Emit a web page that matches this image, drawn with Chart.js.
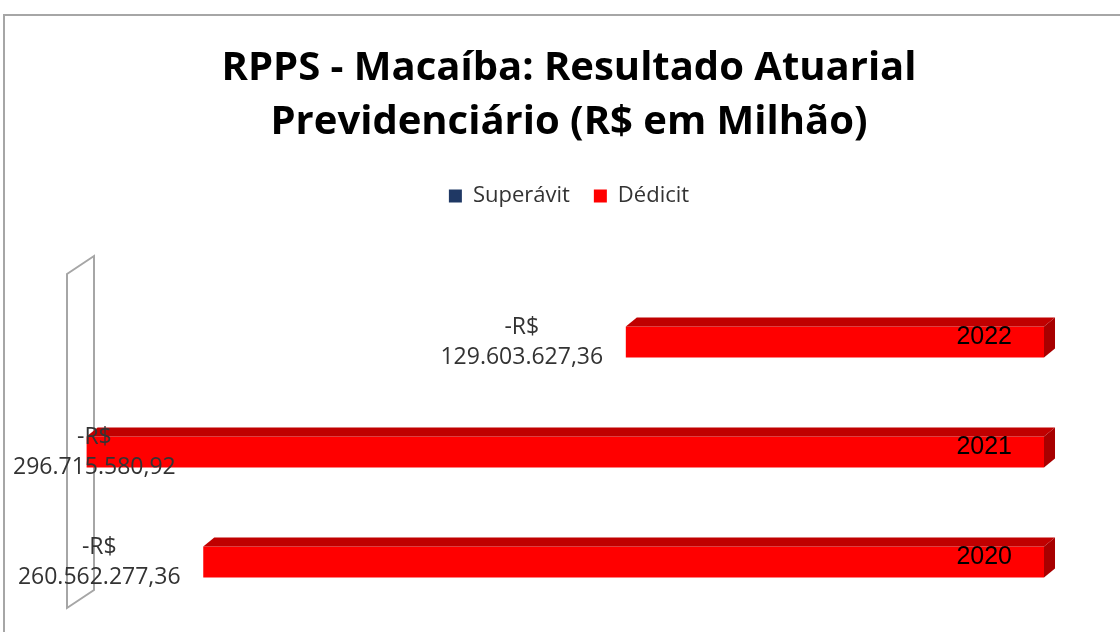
<!DOCTYPE html>
<html><head><meta charset="utf-8">
<script src="https://cdn.jsdelivr.net/npm/chart.js@4.4.0/dist/chart.umd.min.js"></script>
<style>
html,body{margin:0;padding:0;background:#fff;overflow:hidden;width:1120px;height:632px}
#frame{position:absolute;left:3px;top:14px;width:1400px;height:900px;border:2px solid #a6a6a6;box-sizing:border-box}
#wrap{position:absolute;left:0;top:0;width:1120px;height:632px}
</style></head><body>
<div id="frame"></div>
<div id="wrap"><canvas id="c" width="1120" height="632"></canvas></div>
<script>
const categories = ['2022', '2021', '2020'];
const seriesNames = ['Superávit', 'Dédicit'];
const superavit = [null, null, null];
const deficit = [-129603627.36, -296715580.92, -260562277.36];
const titleLines = ['RPPS - Macaíba: Resultado Atuarial', 'Previdenciário (R$ em Milhão)'];

function fmtBR(v) {
  const a = Math.abs(v);
  const parts = a.toFixed(2).split('.');
  const int = parts[0].replace(/\B(?=(\d{3})+(?!\d))/g, '.');
  return int + ',' + parts[1];
}

const threeD = {
  id: 'threeD',
  beforeDatasetsDraw(chart) {
    const ctx = chart.ctx, ca = chart.chartArea;
    ctx.save();
    ctx.strokeStyle = '#a6a6a6';
    ctx.lineWidth = 2;
    ctx.beginPath();
    ctx.moveTo(ca.left - 9, ca.top - 13);
    ctx.lineTo(ca.left + 18, ca.top - 31);
    ctx.lineTo(ca.left + 18, ca.bottom - 27);
    ctx.lineTo(ca.left - 9, ca.bottom - 9);
    ctx.closePath();
    ctx.stroke();
    ctx.restore();
  },
  afterDatasetsDraw(chart) {
    const ctx = chart.ctx;
    const meta = chart.getDatasetMeta(1);
    const dx = 11, dy = 9;
    ctx.save();
    meta.data.forEach((bar) => {
      const p = bar.getProps(['x', 'y', 'base', 'height'], true);
      const left = Math.min(p.x, p.base), right = Math.max(p.x, p.base);
      const top = p.y - p.height / 2, bottom = p.y + p.height / 2;
      ctx.fillStyle = '#c00000';
      ctx.beginPath();
      ctx.moveTo(left, top);
      ctx.lineTo(left + dx, top - dy);
      ctx.lineTo(right + dx, top - dy);
      ctx.lineTo(right, top);
      ctx.closePath();
      ctx.fill();
      ctx.fillStyle = '#a80000';
      ctx.beginPath();
      ctx.moveTo(right, top);
      ctx.lineTo(right + dx, top - dy);
      ctx.lineTo(right + dx, bottom - dy);
      ctx.lineTo(right, bottom);
      ctx.closePath();
      ctx.fill();
    });
    // category labels inside the bars
    ctx.font = '25px "Liberation Sans"';
    ctx.fillStyle = '#000';
    ctx.textAlign = 'right';
    ctx.textBaseline = 'middle';
    meta.data.forEach((bar, i) => {
      const p = bar.getProps(['x', 'y', 'base'], true);
      const right = Math.max(p.x, p.base);
      ctx.fillText(chart.data.labels[i], right - 32, p.y - 5);
    });
    // data labels
    ctx.font = '23px "Open Sans"';
    ctx.fillStyle = '#333';
    ctx.textAlign = 'center';
    meta.data.forEach((bar, i) => {
      const p = bar.getProps(['x', 'y', 'base'], true);
      const left = Math.min(p.x, p.base);
      const num = fmtBR(deficit[i]);
      const w = ctx.measureText(num).width;
      const cx = Math.max(left - 104, 13 + w / 2);
      ctx.fillText('-R$', cx, p.y - 15);
      ctx.fillText(num, cx, p.y + 15);
    });
    ctx.restore();
  }
};

new Chart(document.getElementById('c'), {
  type: 'bar',
  data: {
    labels: categories,
    datasets: [
      { label: seriesNames[0], data: superavit, backgroundColor: '#1f3864', borderWidth: 0 },
      { label: seriesNames[1], data: deficit, backgroundColor: '#ff0000', borderWidth: 0 }
    ]
  },
  options: {
    responsive: false,
    animation: false,
    devicePixelRatio: 1,
    indexAxis: 'y',
    grouped: false,
    barPercentage: 0.28,
    categoryPercentage: 1,
    layout: { padding: { left: 18, right: 0, top: 0, bottom: 15 } },
    scales: {
      x: {
        type: 'linear', min: -300000000, max: 0, position: 'top',
        ticks: { display: false }, grid: { display: false }, border: { display: false },
        afterFit(s) { s.height = 70; }
      },
      y: {
        type: 'category', position: 'left',
        ticks: { display: false }, grid: { display: false }, border: { display: false },
        afterFit(s) { s.width = 58; }
      },
      y2: {
        type: 'category', position: 'right',
        ticks: { display: false }, grid: { display: false }, border: { display: false },
        afterFit(s) { s.width = 76; }
      }
    },
    plugins: {
      title: {
        display: true, text: titleLines, color: '#000',
        font: { family: 'Open Sans', weight: 'bold', size: 40, lineHeight: 54 / 40 },
        padding: { top: 42, bottom: 11 }
      },
      legend: {
        position: 'top',
        labels: { boxWidth: 13, boxHeight: 13, padding: 24, color: '#333',
                  font: { family: 'Open Sans', size: 22 } }
      },
      tooltip: { enabled: false }
    }
  },
  plugins: [threeD]
});
</script>
</body></html>
